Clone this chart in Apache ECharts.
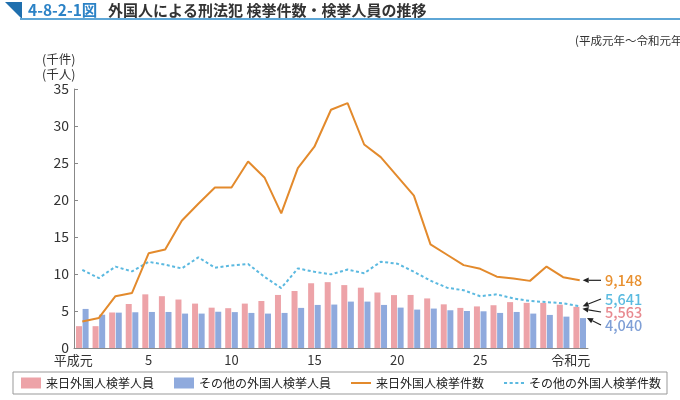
<!DOCTYPE html>
<html><head><meta charset="utf-8">
<script src="https://cdn.jsdelivr.net/npm/echarts@6/dist/echarts.min.js"></script>
<style>html,body{margin:0;padding:0;background:#fff}#c{width:680px;height:400px}</style>
</head><body><div id="c"></div>
<script>
// Years: 平成元 (1989) … 平成30, 令和元 (2019); values in thousands
const categories = ['平成元','2','3','4','5','6','7','8','9','10','11','12','13','14','15','16','17','18','19','20','21','22','23','24','25','26','27','28','29','30','令和元'];
const shownLabelIdx = [0, 4, 9, 14, 19, 24, 30];
const raijitsuPersons = [2.95, 2.95, 4.8, 5.95, 7.25, 7.0, 6.55, 6.0, 5.45, 5.38, 6.0, 6.35, 7.17, 7.7, 8.75, 8.9, 8.5, 8.15, 7.5, 7.15, 7.17, 6.7, 5.9, 5.42, 5.62, 5.78, 6.2, 6.1, 6.1, 5.85, 5.563];
const otherPersons = [5.28, 4.5, 4.78, 4.83, 4.87, 4.87, 4.65, 4.65, 4.9, 4.85, 4.74, 4.65, 4.74, 5.42, 5.82, 5.87, 6.27, 6.27, 5.82, 5.46, 5.19, 5.33, 5.1, 5.0, 4.96, 4.74, 4.87, 4.65, 4.47, 4.24, 4.04];
const raijitsuCases = [3.57, 4.06, 7.0, 7.44, 12.8, 13.3, 17.2, 19.5, 21.7, 21.7, 25.2, 23.0, 18.2, 24.3, 27.2, 32.2, 33.1, 27.5, 25.8, 23.2, 20.6, 14.0, 12.6, 11.2, 10.7, 9.64, 9.4, 9.07, 11.0, 9.57, 9.148];
const otherCases = [10.55, 9.45, 11.0, 10.35, 11.65, 11.25, 10.75, 12.25, 10.85, 11.15, 11.35, 9.6, 8.1, 10.75, 10.3, 9.95, 10.6, 10.1, 11.65, 11.4, 10.3, 9.1, 8.15, 7.8, 7.0, 7.25, 6.7, 6.35, 6.2, 6.05, 5.641];
const endLabels = ['9,148', '5,641', '5,563', '4,040'];
const seriesNames = ['来日外国人検挙人員', 'その他の外国人検挙人員', '来日外国人検挙件数', 'その他の外国人検挙件数'];

const FONT = '"Noto Sans CJK JP", "Noto Sans", sans-serif';
const C_PINK = '#EDA3A8', C_BLUE = '#8FAADD', C_ORANGE = '#E38A2C', C_LBLUE = '#5BB9E0';

const chart = echarts.init(document.getElementById('c'), null, {renderer: 'canvas'});
const option = {
  animation: false,
  textStyle: {fontFamily: FONT},
  grid: {left: 74, right: 92, top: 89, bottom: 52},
  legend: {
    left: 13, top: 372, padding: [5, 6, 5, 8], itemGap: 20,
    itemWidth: 20, itemHeight: 11,
    borderColor: '#999', borderWidth: 1,
    textStyle: {fontSize: 12, color: '#222', fontFamily: FONT},
    data: [
      {name: seriesNames[0], icon: 'rect'},
      {name: seriesNames[1], icon: 'rect'},
      {name: seriesNames[2], icon: 'path://M0,0h20v2h-20z'},
      {name: seriesNames[3], icon: 'path://M0,0h3v2h-3zM5.5,0h3v2h-3zM11,0h3v2h-3zM16.5,0h3v2h-3z'}
    ]
  },
  xAxis: {
    type: 'category', data: categories,
    axisLine: {lineStyle: {color: '#888', width: 1}},
    axisTick: {show: false},
    axisLabel: {
      interval: (i) => shownLabelIdx.includes(i), color: '#333', fontSize: 13, margin: 6, fontFamily: FONT,
      formatter: (v) => (v.length > 2 ? '{w|' + v + '}' : v),
      rich: {w: {fontSize: 13, color: '#333', fontFamily: FONT, padding: [0, 18, 0, 0]}}
    }
  },
  yAxis: {
    type: 'value', min: 0, max: 35, interval: 5,
    axisLine: {show: true, lineStyle: {color: '#888'}},
    axisTick: {show: true, inside: true, length: 4, lineStyle: {color: '#888'}},
    splitLine: {show: false},
    axisLabel: {color: '#333', fontSize: 14, margin: 5, fontFamily: FONT}
  },
  series: [
    {name: seriesNames[0], type: 'bar', data: raijitsuPersons, barWidth: 6, barGap: '10%', itemStyle: {color: C_PINK}},
    {name: seriesNames[1], type: 'bar', data: otherPersons, barWidth: 6, barGap: '10%', itemStyle: {color: C_BLUE}},
    {name: seriesNames[2], type: 'line', data: raijitsuCases, symbol: 'none', lineStyle: {color: C_ORANGE, width: 2}, itemStyle: {color: C_ORANGE}, z: 5},
    {name: seriesNames[3], type: 'line', data: otherCases, symbol: 'none', lineStyle: {color: C_LBLUE, width: 2, type: [3, 2.5]}, itemStyle: {color: C_LBLUE}, z: 4}
  ]
};
chart.setOption(option);

function lastLayout(si) {
  const d = chart.getModel().getSeriesByIndex(si).getData();
  return d.getItemLayout(d.count() - 1);
}
const last = categories.length - 1;
const pOrange = chart.convertToPixel({seriesIndex: 2}, [last, raijitsuCases[last]]);
const pLblue = chart.convertToPixel({seriesIndex: 3}, [last, otherCases[last]]);
let lPink = lastLayout(0), lBlue = lastLayout(1);
const pinkTip = [lPink.x + lPink.width + 3, Math.min(lPink.y, lPink.y + lPink.height) + 2];
const blueTip = [lBlue.x + lBlue.width + 1, Math.min(lBlue.y, lBlue.y + lBlue.height)];
const ann = [
  {tip: [pOrange[0] + 3, pOrange[1]], ty: pOrange[1], text: endLabels[0], color: '#E8902F'},
  {tip: [pLblue[0] + 3, pLblue[1]], ty: 299, text: endLabels[1], color: '#5BBBE0'},
  {tip: pinkTip, ty: 312, text: endLabels[2], color: '#E8898F'},
  {tip: blueTip, ty: 325, text: endLabels[3], color: '#7F9FD6'}
];
const g = [];
// header
g.push({type: 'polygon', shape: {points: [[5, 2], [22, 2], [22, 19]]}, style: {fill: '#1F6FAE'}});
g.push({type: 'rect', shape: {x: 20, y: 18, width: 660, height: 2}, style: {fill: '#5EA6D6'}});
g.push({type: 'text', x: 28, y: 10, style: {text: '4-8-2-1図', fill: '#2B82C6', font: 'bold 15.5px ' + FONT, textVerticalAlign: 'middle'}});
g.push({type: 'text', x: 108, y: 10, style: {text: '外国人による刑法犯 検挙件数・検挙人員の推移', fill: '#333', font: 'bold 15px ' + FONT, textVerticalAlign: 'middle'}});
g.push({type: 'text', x: 575, y: 41, style: {text: '(平成元年～令和元年)', fill: '#333', font: '11.5px ' + FONT, textVerticalAlign: 'middle'}});
g.push({type: 'text', x: 42, y: 59, style: {text: '(千件)', fill: '#333', font: '12.5px ' + FONT, textVerticalAlign: 'middle'}});
g.push({type: 'text', x: 42, y: 74, style: {text: '(千人)', fill: '#333', font: '12.5px ' + FONT, textVerticalAlign: 'middle'}});
ann.forEach(a => {
  const tail = [601, a.ty];
  const dx = a.tip[0] - tail[0], dy = a.tip[1] - tail[1];
  const len = Math.sqrt(dx * dx + dy * dy);
  const ux = dx / len, uy = dy / len;
  const hb = [a.tip[0] - ux * 6, a.tip[1] - uy * 6];
  g.push({type: 'line', shape: {x1: tail[0], y1: tail[1], x2: hb[0], y2: hb[1]}, style: {stroke: '#222', lineWidth: 1.2}, z: 10});
  g.push({type: 'polygon', shape: {points: [a.tip, [hb[0] - uy * 2.8, hb[1] + ux * 2.8], [hb[0] + uy * 2.8, hb[1] - ux * 2.8]]}, style: {fill: '#222'}, z: 10});
  g.push({type: 'text', x: 605, y: a.ty, style: {text: a.text, fill: a.color, font: '500 14.5px ' + FONT, textVerticalAlign: 'middle'}, z: 10});
});
chart.setOption({graphic: g});
</script>
</body></html>
